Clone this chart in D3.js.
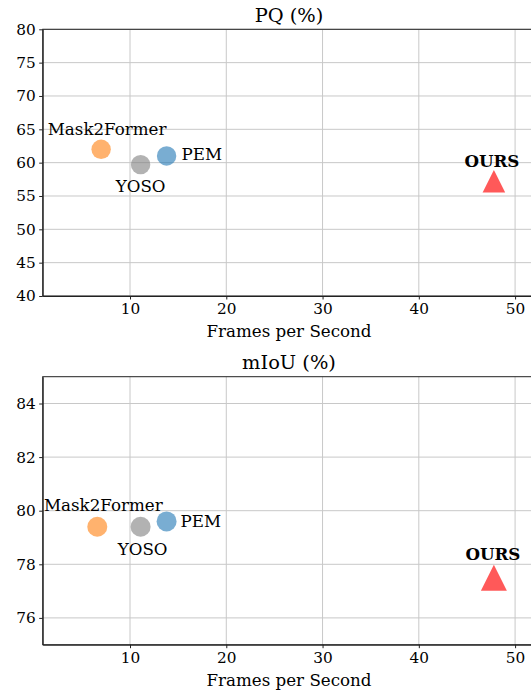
<!DOCTYPE html>
<html>
<head>
<meta charset="utf-8">
<script src="https://cdn.jsdelivr.net/npm/d3@7"></script>
<style>
  html, body { margin: 0; padding: 0; background: #fff; overflow: hidden; }
  svg { display: block; }
  svg text { font-family: "DejaVu Serif", serif; fill: #000; }
  svg .tick text { font-family: "DejaVu Serif", serif; font-size: 15.3px; fill: #000; }
</style>
</head>
<body>
<svg id="chart" width="531" height="691"></svg>
<script>
// ---------------- data ----------------
const methods = ["Mask2Former", "YOSO", "PEM", "OURS"];
const pqFps = [7.0, 11.1, 13.8, 47.8];
const pqValues = [62.0, 59.7, 61.0, 57.2];
const miouFps = [6.6, 11.1, 13.8, 47.8];
const miouValues = [79.4, 79.4, 79.6, 77.5];
const xTicks = [10, 20, 30, 40, 50];
const pqTicks = [40, 45, 50, 55, 60, 65, 70, 75, 80];
const miouTicks = [76, 78, 80, 82, 84];
const xDomain = [0.93, 52.1];
const pqDomain = [40, 80];
const miouDomain = [75, 85];

// ---------------- styles / layout ----------------
const methodColors = ["#ff7f0e", "#7f7f7f", "#1f77b4", "#ff0000"];
const methodOpacity = [0.6, 0.6, 0.6, 0.65];
const methodShapes = ["circle", "circle", "circle", "triangle"];
const methodBold = [false, false, false, true];

const svg = d3.select("#chart");

const panels = [
  {
    title: "PQ (%)", fps: pqFps, values: pqValues, yDomain: pqDomain, yTicks: pqTicks,
    top: 29.3, bottom: 296, circleR: 9.7, triHalf: 11.3,
    // label offsets (px) relative to marker centre: [dx, dy, anchor]
    labels: [[6, -14, "middle"], [0, 27, "middle"], [15, 4, "start"], [-2, -14.6, "middle"]]
  },
  {
    title: "mIoU (%)", fps: miouFps, values: miouValues, yDomain: miouDomain, yTicks: miouTicks,
    top: 376.7, bottom: 644.7, circleR: 10, triHalf: 13,
    labels: [[6, -15.5, "middle"], [2, 28, "middle"], [14, 5.5, "start"], [-1, -18, "middle"]]
  }
];

const left = 42.7, right = 535.3;

panels.forEach(p => {
  const x = d3.scaleLinear().domain(xDomain).range([left, right]);
  const y = d3.scaleLinear().domain(p.yDomain).range([p.bottom, p.top]);
  const g = svg.append("g");

  // grid
  g.append("g").selectAll("line").data(xTicks).join("line")
    .attr("x1", d => x(d)).attr("x2", d => x(d))
    .attr("y1", p.top).attr("y2", p.bottom)
    .attr("stroke", "#c8c8c8").attr("stroke-width", 1);
  g.append("g").selectAll("line").data(p.yTicks).join("line")
    .attr("x1", left).attr("x2", right)
    .attr("y1", d => y(d)).attr("y2", d => y(d))
    .attr("stroke", "#c8c8c8").attr("stroke-width", 1);

  // frame
  g.append("rect").attr("x", left).attr("y", p.top)
    .attr("width", right - left).attr("height", p.bottom - p.top)
    .attr("fill", "none").attr("stroke", "#222").attr("stroke-width", 1);

  // axes
  const xAxis = d3.axisBottom(x).tickValues(xTicks).tickSize(3.5).tickSizeOuter(0).tickPadding(3.5).tickFormat(d3.format("d"));
  const yAxis = d3.axisLeft(y).tickValues(p.yTicks).tickSize(3.5).tickSizeOuter(0).tickPadding(3.5).tickFormat(d3.format("d"));
  const gx = g.append("g").attr("transform", `translate(0,${p.bottom})`).call(xAxis);
  const gy = g.append("g").attr("transform", `translate(${left},0)`).call(yAxis);
  [gx, gy].forEach(a => {
    a.attr("font-family", null).attr("font-size", null);
    a.select(".domain").attr("stroke", "#222");
    a.selectAll(".tick line").attr("stroke", "#222");
    a.selectAll(".tick text").attr("fill", "#000");
  });

  // title
  g.append("text").attr("x", (left + right) / 2).attr("y", p.top - 7.5)
    .attr("text-anchor", "middle").style("font-size", "19.4px").text(p.title);
  // x label
  g.append("text").attr("x", (left + right) / 2).attr("y", p.bottom + 41)
    .attr("text-anchor", "middle").style("font-size", "16.7px").text("Frames per Second");

  // markers
  methods.forEach((m, i) => {
    const cx = x(p.fps[i]), cy = y(p.values[i]);
    if (methodShapes[i] === "circle") {
      g.append("circle").attr("cx", cx).attr("cy", cy).attr("r", p.circleR)
        .attr("fill", methodColors[i]).attr("fill-opacity", methodOpacity[i]);
    } else {
      const s = p.triHalf;
      g.append("path")
        .attr("d", `M${cx},${cy - s}L${cx - s},${cy + s}L${cx + s},${cy + s}Z`)
        .attr("fill", methodColors[i]).attr("fill-opacity", methodOpacity[i]);
    }
    const lb = p.labels[i];
    g.append("text").attr("x", cx + lb[0]).attr("y", cy + lb[1])
      .attr("text-anchor", lb[2])
      .style("font-size", "16.7px")
      .style("font-weight", methodBold[i] ? "bold" : "normal")
      .text(m);
  });
});
</script>
</body>
</html>
